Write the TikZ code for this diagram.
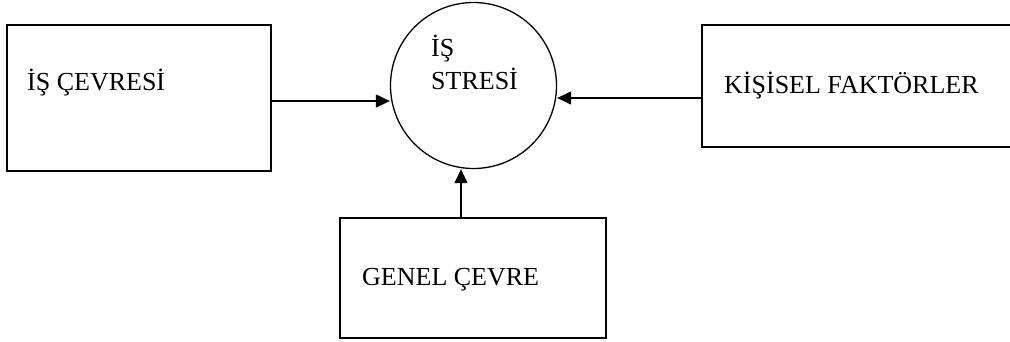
\documentclass[tikz,border=0pt]{standalone}
\usepackage{fontspec}
\setmainfont{Liberation Serif}
\usetikzlibrary{arrows.meta, positioning}

\begin{document}
\begin{tikzpicture}[x=1pt, y=-1pt,
        factor/.style={rectangle, draw, line width=1.3pt, inner sep=0pt},
        stress/.style={circle, draw, line width=1.3pt, minimum size=166pt, inner sep=0pt},
        lbl/.style={anchor=base west, inner sep=0pt, font=\fontsize{26}{30}\selectfont},
        line/.style={line width=1.3pt, -{Triangle[length=14pt, width=13pt]}}
    ]
        \useasboundingbox (0,0) rectangle (1010,341);

        % Centre
        \node[stress] (stres) at (473.5,85.5) {};
        \node[lbl] (s1) at (431,56) {İŞ};
        \node[lbl] (s2) at (431,89) {STRESİ};

        % Boxes
        \node[factor, minimum width=264pt, minimum height=146pt] (isc) at (139,98) {};
        \node[factor, minimum width=312pt, minimum height=122pt] (kisi) at (858,86) {};
        \node[factor, minimum width=266pt, minimum height=120pt] (genel) at (473,278) {};

        \node[lbl] (t1) at (27,90) {İŞ ÇEVRESİ};
        \node[lbl] (t2) at (724,93) {KİŞİSEL FAKTÖRLER};
        \node[lbl] (t3) at (362,285) {GENEL ÇEVRE};

        % Arrows into the circle
        \draw[line] ([yshift=-3pt]isc.east) -- ([yshift=-3pt]isc.east -| stres.west);
        \draw[line] ([yshift=-12pt]kisi.west) -- ([yshift=-12pt]kisi.west -| stres.east);
        \draw[line] ([xshift=-12pt]genel.north) -- ([xshift=-12pt]genel.north |- stres.south);
    \end{tikzpicture}
\end{document}
